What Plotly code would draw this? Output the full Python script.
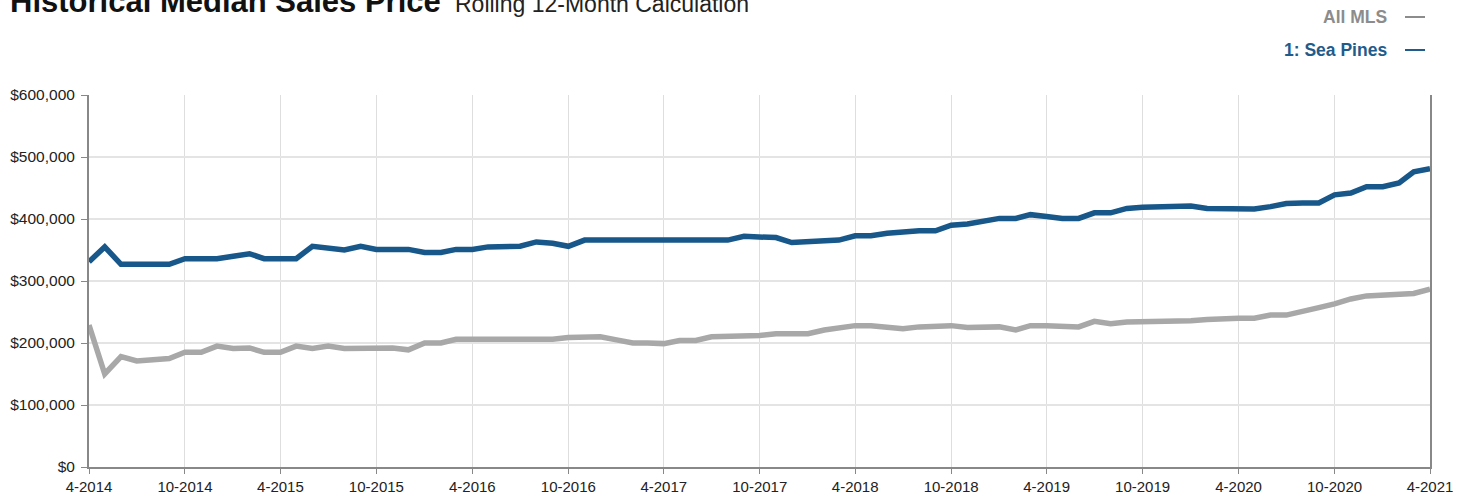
import pandas as pd
import plotly.graph_objects as go

months = pd.date_range("2014-04-01", "2021-04-01", freq="MS")

sea_pines = [331, 355, 327, 327, 327, 327, 336, 336, 336, 340, 344, 336, 336, 336, 356, 353,
             350, 356, 351, 351, 351, 346, 346, 351, 351, 355, 355, 356, 363, 361, 356, 366,
             366, 366, 366, 366, 366, 366, 366, 366, 366, 372, 370, 370, 362, 364, 366, 366,
             373, 373, 377, 380, 381, 381, 390, 392, 397, 401, 401, 407, 404, 401, 401, 410,
             410, 417, 419, 420, 419, 421, 417, 416, 416, 416, 420, 425, 426, 426, 439, 442,
             452, 452, 458, 476, 481]
all_mls = [229, 150, 178, 171, 173, 175, 185, 185, 195, 191, 192, 185, 185, 195, 191, 195,
           191, 191, 190, 192, 189, 200, 200, 206, 206, 206, 206, 205, 205, 206, 209, 209,
           210, 205, 200, 200, 199, 204, 204, 210, 210, 212, 212, 215, 215, 215, 221, 224,
           228, 228, 225, 223, 226, 228, 228, 225, 226, 226, 221, 228, 228, 226, 226, 235,
           231, 234, 234, 234, 235, 236, 238, 240, 240, 240, 245, 245, 250, 257, 263, 271,
           276, 277, 279, 280, 287]
sea_pines = [v * 1000 for v in sea_pines]
all_mls = [v * 1000 for v in all_mls]

tick_dates = pd.date_range("2014-04-01", "2021-04-01", freq="6MS")
tick_labels = ["4-2014", "10-2014", "4-2015", "10-2015", "4-2016", "10-2016", "4-2017",
               "10-2017", "4-2018", "10-2018", "4-2019", "10-2019", "4-2020", "10-2020", "4-2021"]
y_ticks = [0, 100000, 200000, 300000, 400000, 500000, 600000]
y_labels = ["$0", "$100,000", "$200,000", "$300,000", "$400,000", "$500,000", "$600,000"]

BLUE = "#17578a"
GRAY = "#a8a8a8"
FONT = "Liberation Sans, Arial, sans-serif"

L, R, T, B = 89, 42, 95, 28
W, H = 1472, 495
PW, PH = W - L - R, H - T - B


def px_x(x):
    return (x - L) / PW


def px_y(y):
    return 1 + (T - y) / PH


fig = go.Figure()
fig.add_trace(go.Scatter(x=months, y=all_mls, mode="lines", name="All MLS",
                         line=dict(color=GRAY, width=5.5)))
fig.add_trace(go.Scatter(x=months, y=sea_pines, mode="lines", name="1: Sea Pines",
                         line=dict(color=BLUE, width=5.5)))

fig.update_layout(
    width=W, height=H,
    margin=dict(l=L, r=R, t=T, b=B, autoexpand=False),
    paper_bgcolor="white", plot_bgcolor="white",
    showlegend=False,
    font=dict(family=FONT, size=14, color="#222222"),
)
fig.update_xaxes(
    range=[months[0], months[-1]],
    tickvals=tick_dates, ticktext=tick_labels,
    showgrid=True, gridcolor="#dedede", gridwidth=1,
    showline=True, linecolor="#888888", linewidth=2,
    ticks="outside", ticklen=5, tickcolor="#888888",
    tickfont=dict(size=15, color="#222222"),
    zeroline=False, automargin=False,
)
fig.update_yaxes(
    range=[0, 600000],
    tickvals=y_ticks, ticktext=y_labels,
    showgrid=True, gridcolor="#e4e4e4", gridwidth=2,
    showline=True, linecolor="#888888", linewidth=2, mirror=True,
    ticks="outside", ticklen=6, tickcolor="#888888",
    tickfont=dict(size=15.5, color="#222222"),
    ticklabelstandoff=3,
    zeroline=False, automargin=False,
)

title_size, sub_size = 31, 23
fig.add_annotation(xref="paper", yref="paper", x=px_x(8), y=px_y(13 + 0.212 * title_size + 1),
                   xanchor="left", yanchor="bottom", showarrow=False,
                   text="<b>Historical Median Sales Price</b>",
                   font=dict(size=title_size, color="#111111", family=FONT))
fig.add_annotation(xref="paper", yref="paper", x=px_x(453), y=px_y(13 + 0.212 * sub_size + 1),
                   xanchor="left", yanchor="bottom", showarrow=False,
                   text="Rolling 12-Month Calculation",
                   font=dict(size=sub_size, color="#222222", family=FONT))

legend_items = [("All MLS", "#8c8c8c", 17), ("1: Sea Pines", "#1f5c8b", 50)]
for label, col, ypix in legend_items:
    fig.add_annotation(xref="paper", yref="paper", x=px_x(1389), y=px_y(ypix),
                       xanchor="right", yanchor="middle", showarrow=False,
                       text=f"<b>{label}</b>", font=dict(size=17.5, color=col, family=FONT))
    fig.add_shape(type="line", xref="paper", yref="paper",
                  x0=px_x(1405), x1=px_x(1425), y0=px_y(ypix), y1=px_y(ypix),
                  line=dict(color=col, width=2))

fig.write_html("out.html",
               config={"displayModeBar": False},
               post_script="document.body.style.margin='0';document.body.style.overflow='hidden';")
